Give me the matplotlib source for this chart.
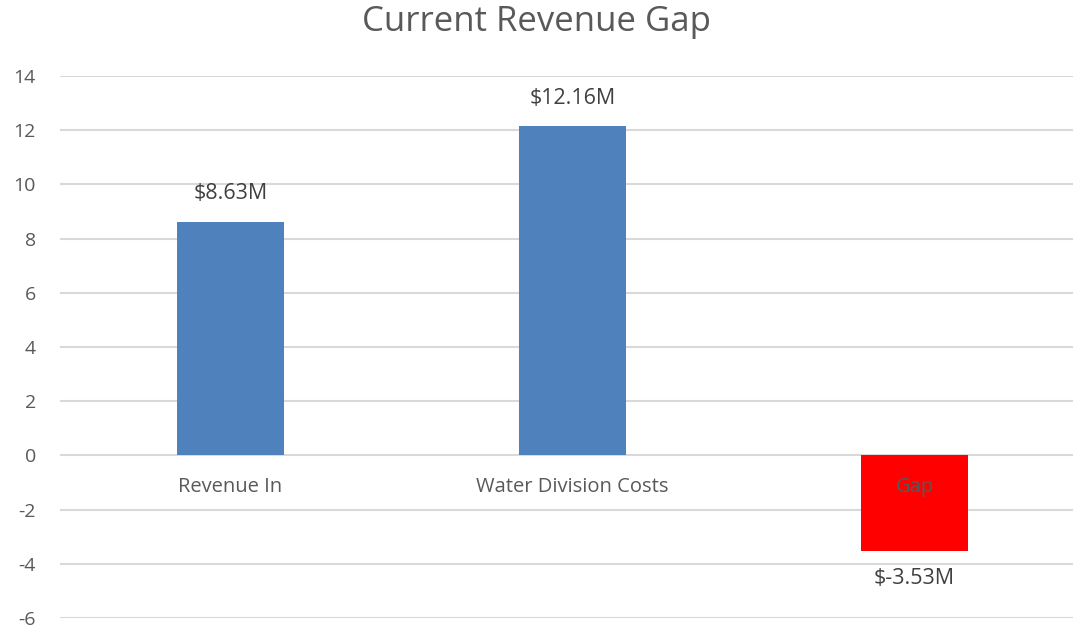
import numpy as np
import matplotlib.pyplot as plt

categories = ["Revenue In", "Water Division Costs", "Gap"]
values = [8.63, 12.16, -3.53]
value_labels = ["$8.63M", "$12.16M", "$-3.53M"]
colors = ["#4F81BD", "#4F81BD", "#FF0000"]

plt.rcParams['font.family'] = ['Open Sans', 'DejaVu Sans']
plt.rcParams['axes.unicode_minus'] = False
txt = "#595959"

fig = plt.figure(figsize=(10.73, 6.27), dpi=100)
ax = fig.add_axes([59.5/1073, 1-618/627, 1-59.5/1073, 542/627])

x = np.arange(len(categories))
ax.bar(x, values, width=0.313, color=colors, zorder=2)

ax.set_ylim(-6, 14)
ax.set_yticks(np.arange(-6, 15, 2))
ax.set_xlim(-0.5, 2.5 - 12.5/342)
ax.set_xticks([])
ax.grid(axis='y', color="#D9D9D9", linewidth=1.5, zorder=0)
ax.tick_params(axis='y', length=0, pad=17, labelsize=14, labelcolor=txt)
for s in ax.spines.values():
    s.set_visible(False)

for xi, v, lab in zip(x, values, value_labels):
    off = 20 if v >= 0 else -20
    ax.annotate(lab, (xi, v), xytext=(0, off), textcoords='offset points',
                ha='center', va='center', fontsize=15.5, color="#404040")
    ax.annotate(categories[xi], (xi, 0), xytext=(0, -22.5), textcoords='offset points',
                ha='center', va='center', fontsize=14.5, color=txt, zorder=3)

fig.text(0.5, 1-22/627, "Current Revenue Gap", ha='center', va='center',
         fontsize=25, color=txt)

fig.savefig("out.png", dpi=100)
